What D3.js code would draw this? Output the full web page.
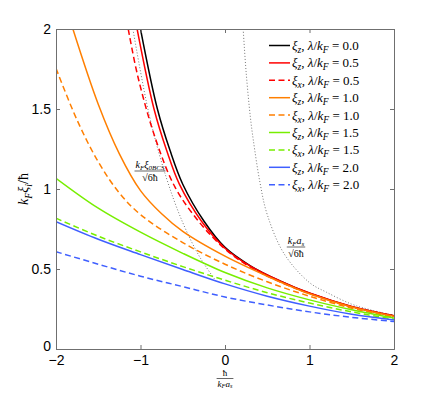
<!DOCTYPE html>
<html>
<head>
<meta charset="utf-8">
<script src="https://cdn.jsdelivr.net/npm/d3@7/dist/d3.min.js"></script>
<style>
body { margin: 0; background: #fff; }
.tick text { font-family: "Liberation Sans", Arial, sans-serif; font-size: 14px; }
.math { font-family: "Liberation Serif", "DejaVu Serif", serif; }
</style>
</head>
<body>
<div id="vis"></div>
<script>
// values: [hbar/(kF a_s), kF xi/hbar]
const xi_z_00 = [[-1.0, 2.0], [-0.8, 1.5], [-0.65, 1.24], [-0.5, 1.03], [-0.25, 0.8], [0.0, 0.635], [0.3, 0.52], [0.65, 0.425], [1.0, 0.348], [1.5, 0.265], [2.0, 0.207]];
const xi_z_05 = [[-1.04, 2.0], [-0.84, 1.5], [-0.69, 1.24], [-0.54, 1.03], [-0.28, 0.8], [0.0, 0.63], [0.3, 0.518], [0.65, 0.426], [1.0, 0.35], [1.5, 0.266], [2.0, 0.208]];
const xi_x_05 = [[-1.145, 2.0], [-1.03, 1.7], [-0.82, 1.31], [-0.59, 1.01], [-0.3, 0.79], [0.0, 0.625], [0.3, 0.512], [0.65, 0.42], [1.0, 0.346], [1.5, 0.263], [2.0, 0.206]];
const xi_z_10 = [[-1.8, 2.0], [-1.5, 1.53], [-1.25, 1.22], [-1.0, 0.99], [-0.75, 0.845], [-0.5, 0.735], [0.0, 0.58], [0.5, 0.455], [1.0, 0.345], [1.5, 0.262], [2.0, 0.204]];
const xi_x_10 = [[-2.0, 1.754], [-1.75, 1.43], [-1.5, 1.17], [-1.25, 0.975], [-1.0, 0.84], [-0.5, 0.665], [0.0, 0.53], [0.5, 0.42], [1.0, 0.33], [1.5, 0.255], [2.0, 0.198]];
const xi_z_15 = [[-2.0, 1.067], [-1.5, 0.88], [-1.0, 0.73], [-0.5, 0.598], [0.0, 0.478], [0.5, 0.382], [1.0, 0.307], [1.5, 0.245], [2.0, 0.193]];
const xi_x_15 = [[-2.0, 0.817], [-1.5, 0.705], [-1.0, 0.607], [-0.5, 0.515], [0.0, 0.43], [0.5, 0.352], [1.0, 0.287], [1.5, 0.232], [2.0, 0.186]];
const xi_z_20 = [[-2.0, 0.796], [-1.5, 0.686], [-1.0, 0.59], [-0.5, 0.497], [0.0, 0.407], [0.5, 0.33], [1.0, 0.268], [1.5, 0.217], [2.0, 0.181]];
const xi_x_20 = [[-2.0, 0.608], [-1.5, 0.53], [-1.0, 0.455], [-0.5, 0.39], [0.0, 0.325], [0.5, 0.275], [1.0, 0.232], [1.5, 0.198], [2.0, 0.172]];
const bcs_limit = [[-1.09, 2.0], [-0.9, 1.47], [-0.7, 1.08], [-0.5, 0.79], [-0.3, 0.576], [-0.1, 0.42]];
const bec_limit = [[0.215, 2.0], [0.25, 1.73], [0.3, 1.45], [0.335, 1.306], [0.414, 1.04], [0.5, 0.84], [0.7, 0.595], [1.0, 0.415], [1.2, 0.355], [1.5, 0.28], [1.7, 0.248], [2.0, 0.21]];

const x_ticks = [-2, -1, 0, 1, 2];
const y_ticks = [0, 0.5, 1, 1.5, 2];

const series = [
    {sub: "z", lam: "0.0", data: xi_z_00, color: "#000000", dash: null},
    {sub: "z", lam: "0.5", data: xi_z_05, color: "#ff0000", dash: null},
    {sub: "x", lam: "0.5", data: xi_x_05, color: "#ff0000", dash: "6,3.5"},
    {sub: "z", lam: "1.0", data: xi_z_10, color: "#ff7f00", dash: null},
    {sub: "x", lam: "1.0", data: xi_x_10, color: "#ff7f00", dash: "6,3.5"},
    {sub: "z", lam: "1.5", data: xi_z_15, color: "#77ee00", dash: null},
    {sub: "x", lam: "1.5", data: xi_x_15, color: "#77ee00", dash: "6,3.5"},
    {sub: "z", lam: "2.0", data: xi_z_20, color: "#3f5fff", dash: null},
    {sub: "x", lam: "2.0", data: xi_x_20, color: "#3f5fff", dash: "6,3.5"}
];

const width = 436;
const height = 393;
const plotLeft = 56, plotRight = 394, plotTop = 29, plotBottom = 349;

const svg = d3.select("#vis").append("svg")
    .attr("width", width)
    .attr("height", height);

const xScale = d3.scaleLinear().domain([-2, 2]).range([plotLeft, plotRight]);
const yScale = d3.scaleLinear().domain([0, 2]).range([plotBottom, plotTop]);

svg.append("clipPath").attr("id", "plot")
    .append("rect")
    .attr("x", plotLeft).attr("y", plotTop)
    .attr("width", plotRight - plotLeft).attr("height", plotBottom - plotTop);

const line = d3.line()
    .x(d => xScale(d[0]))
    .y(d => yScale(d[1]))
    .curve(d3.curveCatmullRom.alpha(0.5));

const curves = svg.append("g").attr("clip-path", "url(#plot)");

// the two limiting dotted curves
[bcs_limit, bec_limit].forEach(d => {
    curves.append("path")
        .datum(d)
        .attr("fill", "none")
        .attr("stroke", "#777")
        .attr("stroke-width", 1)
        .attr("stroke-dasharray", "1,2")
        .attr("d", line);
});

// same order as the legend, later curves on top
series.forEach(s => {
    curves.append("path")
        .datum(s.data)
        .attr("fill", "none")
        .attr("stroke", s.color)
        .attr("stroke-width", 1.5)
        .attr("stroke-dasharray", s.dash)
        .attr("d", line);
});

// axes, MATLAB style box with inward ticks
const fmt = d => d < 0 ? "\u2212" + Math.abs(d) : d3.format("")(d);
const xAxis = d3.axisBottom(xScale).tickValues(x_ticks).tickSize(-4).tickPadding(6).tickFormat(fmt);
const yAxis = d3.axisLeft(yScale).tickValues(y_ticks).tickSize(-4).tickPadding(5).tickFormat(fmt);

svg.append("g").attr("transform", `translate(0,${plotBottom})`).call(xAxis);
const yAxisG = svg.append("g").attr("transform", `translate(${plotLeft},0)`).call(yAxis);
svg.append("g").attr("transform", `translate(0,${plotTop})`)
    .call(d3.axisTop(xScale).tickValues(x_ticks).tickSize(-4).tickFormat(""));
svg.append("g").attr("transform", `translate(${plotRight},0)`)
    .call(d3.axisRight(yScale).tickValues(y_ticks).tickSize(-4).tickFormat(""));

// the corner "0" sits a little higher so it clears the "-2" below it
yAxisG.selectAll(".tick text").filter(d => d === 0).attr("y", -3);

svg.selectAll(".domain").attr("stroke", "#6f6f6f");
svg.selectAll(".tick line").attr("stroke", "#6f6f6f");
svg.selectAll(".tick text").attr("fill", "#000");

// math text helper: parts are [text, style] with "i" italic, "s" italic subscript, "r" roman
function mathText(g, parts, size, drop) {
    const t = g.append("text").attr("class", "math").attr("font-size", size);
    const shift = size * (drop || 0.25);
    let shifted = false;
    parts.forEach(p => {
        const sp = t.append("tspan").text(p[0]);
        if (p[1] === "s") {
            sp.attr("font-style", "italic").attr("font-size", size * 0.7);
            if (!shifted) sp.attr("dy", shift);
            shifted = true;
        } else {
            if (p[1] === "i") sp.attr("font-style", "italic");
            if (shifted) sp.attr("dy", -shift);
            shifted = false;
        }
    });
    return t;
}

function frac(x, y, num, den, size) {
    const g = svg.append("g").attr("transform", `translate(${x},${y})`);
    const n = mathText(g, num, size, 0.15).attr("text-anchor", "middle").attr("y", -3);
    const d = mathText(g, den, size, 0.15).attr("text-anchor", "middle").attr("y", size * 0.95);
    const w = Math.max(n.node().getComputedTextLength(), d.node().getComputedTextLength()) + 2;
    g.append("line").attr("x1", -w / 2).attr("x2", w / 2)
        .attr("stroke", "#000").attr("stroke-width", 0.6);
    return g;
}

// labels on the limiting curves
frac(150, 171, [["k", "i"], ["F", "s"], ["\u03be", "i"], ["0BCS", "s"]], [["\u221a6\u0127", "r"]], 10);
frac(296, 247, [["k", "i"], ["F", "s"], ["a", "i"], ["s", "s"]], [["\u221a6\u0127", "r"]], 10);

// x-axis label
frac(225, 378.5, [["\u0127", "r"]], [["k", "i"], ["F", "s"], ["a", "i"], ["s", "s"]], 9);

// y-axis label
const yl = svg.append("g").attr("transform", `translate(28,${(plotTop + plotBottom) / 2}) rotate(-90)`);
mathText(yl, [["k", "i"], ["F", "s"], ["\u03be", "i"], ["i", "s"], ["/\u0127", "r"]], 14)
    .attr("text-anchor", "middle");

// legend
const legend = svg.append("g");
series.forEach((s, i) => {
    const y = 45.5 + i * 17.4;
    legend.append("line")
        .attr("x1", 269).attr("x2", 290)
        .attr("y1", y).attr("y2", y)
        .attr("stroke", s.color)
        .attr("stroke-width", 1.5)
        .attr("stroke-dasharray", s.dash);
    const t = legend.append("text").attr("class", "math")
        .attr("x", 292).attr("y", y + 4.5).attr("font-size", 13);
    t.append("tspan").attr("font-style", "italic").text("\u03be");
    t.append("tspan").attr("font-style", "italic").attr("font-size", 9.5).attr("dy", 3).text(s.sub);
    t.append("tspan").attr("dy", -3).text(", ");
    t.append("tspan").attr("font-style", "italic").text("\u03bb");
    t.append("tspan").text("/");
    t.append("tspan").attr("font-style", "italic").text("k");
    t.append("tspan").attr("font-style", "italic").attr("font-size", 9.5).attr("dy", 3).text("F");
    t.append("tspan").attr("dy", -3).text(" = " + s.lam);
});
</script>
</body>
</html>
